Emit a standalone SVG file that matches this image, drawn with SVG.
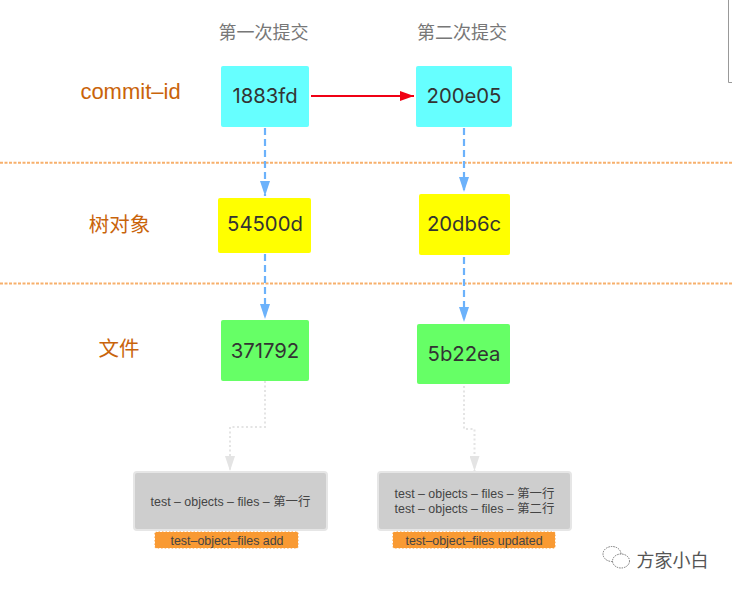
<svg xmlns="http://www.w3.org/2000/svg" width="732" height="591" viewBox="0 0 732 591">
<style>
text{font-family:"Noto Sans CJK SC","Liberation Sans",sans-serif;text-anchor:middle}
.n{font-family:"Inter","Liberation Sans","Noto Sans CJK SC",sans-serif;font-size:20.300px;fill:#333}
.h{font-size:18px;fill:#777}
.l{font-size:20.500px;fill:#c9640a}
.s{font-family:"Liberation Sans","Noto Sans CJK SC",sans-serif;font-size:12.400px;fill:#444}
.c{fill:#66ffff}.y{fill:#ffff00}.g{fill:#66ff66}
.gray{fill:#cecece;stroke:#e6e6e6;stroke-width:2}
.o{fill:#f99a33;stroke:#fff;stroke-width:1;stroke-dasharray:2 1.500}
.div{stroke:#f7b06c;stroke-width:2;stroke-dasharray:3 1.500;fill:none}
.b{stroke:#6cb2fb;stroke-width:2.200;stroke-dasharray:7 4;fill:none;marker-end:url(#ab)}
.d{stroke:#e4e4e4;stroke-width:2;stroke-dasharray:2 2.500;fill:none;marker-end:url(#ag)}
</style>
<defs>
<marker id="ab" markerUnits="userSpaceOnUse" markerWidth="10" markerHeight="15" refX="5" refY="15" orient="0" viewBox="0 0 10 15"><path d="M0 0H10L5 15Z" fill="#6cb2fb"/></marker>
<marker id="ag" markerUnits="userSpaceOnUse" markerWidth="10" markerHeight="15" refX="5" refY="15" orient="0" viewBox="0 0 10 15"><path d="M0 0H10L5 15Z" fill="#e4e4e4"/></marker>
<marker id="ar" markerUnits="userSpaceOnUse" markerWidth="14" markerHeight="10" refX="14" refY="5" orient="0" viewBox="0 0 14 10"><path d="M0 0L14 5L0 10Z" fill="#f00014"/></marker>
</defs>
<rect width="732" height="591" fill="#fff"/>
<path d="M728.500 0V82.500H732" fill="none" stroke="#999" stroke-width="1"/>
<g id="dividers"><path class="div" d="M0 162.800H732"/><path class="div" d="M0 283.500H732"/></g>
<g id="connectors">
<path d="M311 96H414" stroke="#f00014" stroke-width="1.800" fill="none" marker-end="url(#ar)"/>
<path class="b" d="M265 128V196"/><path class="b" d="M464 128V192"/>
<path class="b" d="M265 254V319"/><path class="b" d="M464 257V322"/>
<path class="d" d="M265 381V427H230V471"/><path class="d" d="M464 386V429H474.500V471"/>
</g>
<g id="headers"><text class="h" x="263.500" y="38.500">第一次提交</text><text class="h" x="462" y="38.500">第二次提交</text></g>
<g id="labels"><text class="l" x="130.500" y="99" style="font-family:'Liberation Sans',sans-serif;font-size:22px">commit–id</text><text class="l" x="119.500" y="231.500">树对象</text><text class="l" x="119" y="355.500">文件</text></g>
<g id="n1883fd"><rect class="c" x="221" y="66" width="88" height="61" rx="2"/><text class="n" x="265" y="103">1883fd</text></g>
<g id="n200e05"><rect class="c" x="416" y="66" width="96" height="61" rx="2"/><text class="n" x="464" y="103">200e05</text></g>
<g id="n54500d"><rect class="y" x="218" y="198" width="93" height="55" rx="2"/><text class="n" x="265" y="231">54500d</text></g>
<g id="n20db6c"><rect class="y" x="419" y="194" width="91" height="61" rx="2"/><text class="n" x="464" y="231">20db6c</text></g>
<g id="n371792"><rect class="g" x="221" y="320" width="88" height="61" rx="2"/><text class="n" x="265" y="358">371792</text></g>
<g id="n5b22ea"><rect class="g" x="417" y="324" width="93" height="60" rx="2"/><text class="n" x="464" y="361">5b22ea</text></g>
<g id="file1"><rect class="gray" x="134" y="472" width="193" height="58" rx="3"/><text class="s" x="230.500" y="506">test – objects – files – 第一行</text></g>
<g id="file2"><rect class="gray" x="378" y="472" width="193" height="58" rx="3"/><text class="s" x="474.500" y="498">test – objects – files – 第一行</text><text class="s" x="474.500" y="513">test – objects – files – 第二行</text></g>
<g id="tag1"><rect class="o" x="154.500" y="531.500" width="144" height="17" rx="2"/><text class="s" x="227" y="544.500">test–object–files add</text></g>
<g id="tag2"><rect class="o" x="392.500" y="531.500" width="163" height="17" rx="2"/><text class="s" x="474" y="544.500">test–object–files updated</text></g>
<g id="watermark"><text x="672.500" y="566.500" style="font-size:18px;fill:#555">方家小白</text>
<g fill="#fff" stroke="#666" stroke-width="0.900" stroke-dasharray="1.500 1"><ellipse cx="612" cy="554" rx="9" ry="7.500"/><ellipse cx="621" cy="561" rx="8.500" ry="7"/></g></g>
</svg>
